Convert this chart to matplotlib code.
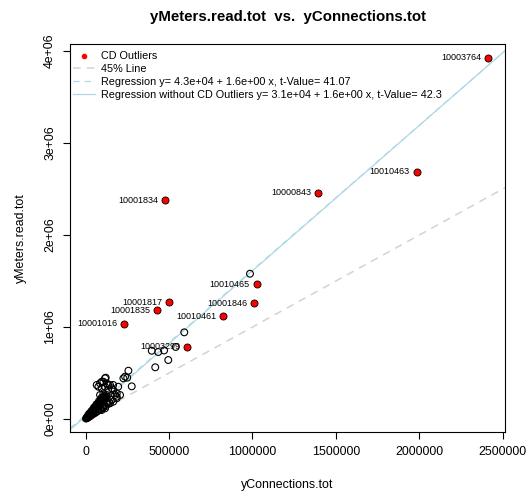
import numpy as np
import matplotlib.pyplot as plt
from matplotlib.lines import Line2D

plt.rcParams['font.family'] = ['Liberation Sans', 'DejaVu Sans']

# CD outliers (red points with labels)
outlier_ids = ['10003764', '10010463', '10000843', '10001834', '10010465',
               '10001817', '10001846', '10001835', '10010461', '10001016',
               '10003299']
outlier_x = [2414000, 1984000, 1395000, 475000, 1024000,
             501000, 1011000, 429000, 825000, 231000, 609000]
outlier_y = [3925000, 2688000, 2457000, 2380000, 1467000,
             1268000, 1257000, 1181000, 1116000, 1033000, 783000]

# remaining points (thousands)
other_x_k = [985, 591, 396, 435, 540, 470, 495, 417, 256, 236, 226, 249, 276,
             66, 86, 106, 126, 146, 96, 76, 116, 135, 156, 165, 186, 106, 126, 195,
             120, 116, 96, 135, 165, 86, 126, 176, 156, 186,
             96, 116, 146, 165, 186, 206,
             2, 5, 8, 10, 12, 15, 18, 20, 22, 25, 28, 30, 32, 35, 38, 40, 42, 45,
             48, 50, 52, 55, 58, 60, 62, 65, 68, 70, 72, 75, 78, 80, 82, 85, 88,
             90, 92, 95, 98, 100, 102, 105, 108, 110, 112, 115, 118, 120,
             30, 45, 60, 75, 90, 105, 120, 135,
             20, 35, 50, 65, 80, 95,
             10, 18, 26, 34, 42, 52, 62, 72, 82, 92, 102, 112,
             15, 25, 40, 55, 70, 85, 100, 110, 125, 140]
other_y_k = [1579, 942, 742, 728, 783, 745, 641, 562, 525, 460, 442, 449, 355,
             370, 388, 405, 388, 370, 334, 351, 351, 315, 334, 370, 279, 279, 261, 351,
             449, 442, 405, 370, 315, 261, 242, 261, 207, 225,
             98, 116, 171, 188, 242, 261,
             5, 8, 15, 12, 25, 30, 22, 40, 35, 50, 45, 60, 55, 70, 62, 80, 75, 90,
             85, 100, 95, 110, 105, 120, 112, 130, 125, 140, 130, 150, 145, 160, 150,
             170, 165, 180, 175, 190, 185, 200, 195, 210, 205, 220, 215, 230, 225, 240,
             35, 55, 70, 90, 105, 125, 140, 165,
             55, 85, 125, 160, 195, 230,
             28, 45, 65, 82, 100, 120, 145, 165, 185, 210, 235, 255,
             18, 30, 50, 68, 88, 110, 130, 150, 170, 185]

# regression fits: (intercept, slope, t-value)
fit_all = (4.3e4, 1.575, '41.07')
fit_clean = (3.1e4, 1.58, '42.3')

x_ticks = [0, 500000, 1000000, 1500000, 2000000, 2500000]
y_ticks = [0, 1e6, 2e6, 3e6, 4e6]
y_tick_labels = ['0e+00', '1e+06', '2e+06', '3e+06', '4e+06']

fig = plt.figure(figsize=(5.28, 4.97), dpi=100)
ax = fig.add_axes([70 / 528, 65 / 497, 435 / 528, 387.7 / 497])

xlim = (-94100, 2513800)
ylim = (-141300, 4073000)
ax.set_xlim(*xlim)
ax.set_ylim(*ylim)

xs = np.array(xlim)
ax.plot(xs, xs, color='lightgray', linestyle=(0, (5, 4)), linewidth=1.1,
        label='45% Line', zorder=1)
ax.plot(xs, fit_all[0] + fit_all[1] * xs, color='lightblue',
        linestyle=(0, (5, 4)), linewidth=0.9,
        label='Regression y= %.1e + %.1e x, t-Value= %s' % (fit_all[0], 1.6, fit_all[2]),
        zorder=1)
ax.plot(xs, fit_clean[0] + fit_clean[1] * xs, color='lightblue', linewidth=0.9,
        label='Regression without CD Outliers y= %.1e + %.1e x, t-Value= %s'
        % (fit_clean[0], 1.6, fit_clean[2]), zorder=1)

ox = np.array(other_x_k) * 1000
oy = np.array(other_y_k) * 1000
ax.scatter(ox, oy, s=24, facecolors='none', edgecolors='black',
           linewidths=0.8, zorder=2)
ax.scatter(outlier_x, outlier_y, s=26, facecolors='red', edgecolors='black',
           linewidths=0.6, zorder=3)

for lab, x, y in zip(outlier_ids, outlier_x, outlier_y):
    ax.annotate(lab, (x, y), xytext=(-5, 0), textcoords='offset points',
                ha='right', va='center', fontsize=6.5, zorder=4)

# legend: red dot for outliers plus the three lines
handles = [Line2D([], [], marker='o', color='red', linestyle='none',
                  markersize=3)] + ax.get_lines()[:3]
labels = ['CD Outliers'] + [l.get_label() for l in ax.get_lines()[:3]]
ax.legend(handles, labels, loc='upper left', frameon=False, fontsize=7.8,
          handlelength=2.0, handletextpad=0.6, labelspacing=0.25,
          bbox_to_anchor=(0.0, 0.99), borderaxespad=0.0, borderpad=0.3)

ax.set_xticks(x_ticks)
ax.set_xticklabels([str(v) for v in x_ticks])
ax.set_yticks(y_ticks)
ax.set_yticklabels(y_tick_labels, rotation=90, va='center')
ax.tick_params(direction='out', length=5, width=0.8, labelsize=8.9, pad=5)
for sp in ax.spines.values():
    sp.set_linewidth(0.8)

ax.set_xlabel('yConnections.tot', fontsize=8.9, labelpad=15)
ax.set_ylabel('yMeters.read.tot', fontsize=8.9, labelpad=12)
ax.set_title('yMeters.read.tot  vs.  yConnections.tot', fontsize=10.8,
             fontweight='bold', pad=17)

plt.savefig('out.png', dpi=100)
